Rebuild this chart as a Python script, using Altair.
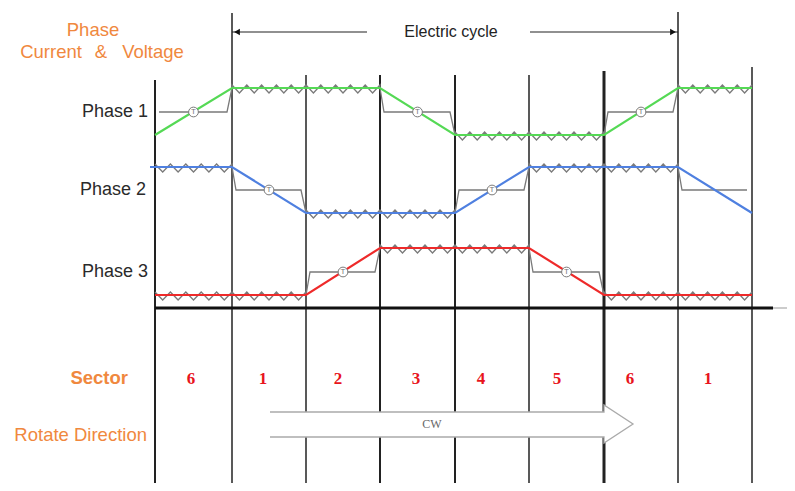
import altair as alt
import pandas as pd

W, H = 779, 475
XS = alt.Scale(domain=[8, 8 + W], nice=False, zero=False)
YS = alt.Scale(domain=[8, 8 + H], nice=False, zero=False, reverse=True)

# ---- data ----
boundaries = [155, 232, 306, 380, 455, 529, 604, 678, 752]
boundary_tops = [80, 13, 75, 75, 75, 75, 71, 12, 67]
boundary_widths = [2, 1.5, 1.5, 2, 2, 1.5, 3, 1.5, 1.5]
sector_labels = ["6", "1", "2", "3", "4", "5", "6", "1"]
sector_label_x = [191, 263, 338, 416, 481, 557, 630, 708]

phase_names = ["Phase 1", "Phase 2", "Phase 3"]
phase_label_x = [150, 148, 150]
phase_colors = ["#55d955", "#4f80e0", "#ee2a2a"]
level_high = [88, 167, 248]
level_mid = [112, 190, 272]
level_low = [135, 213, 295]
line_start = [155, 150, 155]
# H high, L low, R rising, F falling  (per sector)
phase_states = [
    ["R", "H", "H", "F", "L", "L", "R", "H"],
    ["H", "F", "L", "L", "R", "H", "H", "F"],
    ["L", "L", "R", "H", "H", "F", "L", "L"],
]
teeth_per_sector = 5

ORANGE = "#f0883e"
GRAY = "#7a7a7a"
DARK = "#222222"


def X(f, **kw):
    return alt.X(f, scale=XS, axis=None, **kw)


def Y(f, **kw):
    return alt.Y(f, scale=YS, axis=None, **kw)


# ---- vertical boundary lines ----
vdf = pd.DataFrame({"x": boundaries, "top": boundary_tops,
                    "bot": [491] * len(boundaries), "w": boundary_widths})
vlines = alt.Chart(vdf).mark_rule(color=DARK).encode(
    x=X("x:Q"), y=Y("top:Q"), y2="bot:Q",
    strokeWidth=alt.StrokeWidth("w:Q", scale=None))

# ---- horizontal axis line ----
hdf = pd.DataFrame({"x": [155, 773], "x2": [773, 795], "y": [308, 308],
                    "w": [3, 1], "c": ["#111111", "#999999"]})
hline = alt.Chart(hdf).mark_rule().encode(
    x=X("x:Q"), x2="x2:Q", y=Y("y:Q"),
    strokeWidth=alt.StrokeWidth("w:Q", scale=None),
    color=alt.Color("c:N", scale=None))

# ---- waveforms ----
gray_rows, color_rows, circ_rows = [], [], []
for k in range(3):
    hi, mi, lo = level_high[k], level_mid[k], level_low[k]
    st = phase_states[k]
    idx = 0
    for i, s in enumerate(st):
        x0, x1 = boundaries[i], boundaries[i + 1]
        if s in "HL":
            lvl = hi if s == "H" else lo
            n = teeth_per_sector * 2
            for j in range(n + 1):
                gray_rows.append({"p": k, "i": idx, "x": x0 + (x1 - x0) * j / n,
                                  "y": lvl - 3 if j % 2 == 0 else lvl + 5})
                idx += 1
        else:
            a, b = (lo, hi) if s == "R" else (hi, lo)
            pts = []
            if i > 0:
                pts.append((x0, a))
            pts.append((x0 + 4, mi))
            pts.append((x1 - 5, mi))
            if i < len(st) - 1:
                pts.append((x1, b))
                circ_rows.append({"x": (x0 + x1) / 2, "y": mi})
            for (px, py) in pts:
                gray_rows.append({"p": k, "i": idx, "x": px, "y": py})
                idx += 1
    # colored line through boundaries
    vals = []
    for i, s in enumerate(st):
        vals.append(hi if s in "HF" else lo)
    last = st[-1]
    vals.append(hi if last in "HR" else lo)
    xs = list(boundaries)
    xs[0] = line_start[k]
    for i, (px, py) in enumerate(zip(xs, vals)):
        color_rows.append({"p": k, "i": i, "x": px, "y": py, "c": phase_colors[k]})

gdf = pd.DataFrame(gray_rows)
gray = alt.Chart(gdf).mark_line(color=GRAY, strokeWidth=1.3).encode(
    x=X("x:Q"), y=Y("y:Q"), detail="p:N", order="i:Q")

cdf = pd.DataFrame(color_rows)
colored = alt.Chart(cdf).mark_line(strokeWidth=2.2).encode(
    x=X("x:Q"), y=Y("y:Q"), detail="p:N", order="i:Q",
    color=alt.Color("c:N", scale=None))

circdf = pd.DataFrame(circ_rows)
circles = alt.Chart(circdf).mark_point(
    shape="circle", filled=True, fill="white", stroke=GRAY, strokeWidth=1,
    size=95, opacity=1).encode(x=X("x:Q"), y=Y("y:Q"))
tletters = alt.Chart(circdf.assign(t="T")).mark_text(
    fontSize=8, color="#777777", font="Liberation Sans", baseline="middle").encode(
    x=X("x:Q"), y=Y("y:Q"), text="t:N")

# ---- CW arrow ----
fill_df = pd.DataFrame({"g": ["s", "s", "h", "h"],
                        "x": [270, 604, 604, 633],
                        "y": [412, 412, 405, 424],
                        "y2": [437, 437, 443, 424]})
arrow_fill = alt.Chart(fill_df).mark_area(color="white", opacity=1).encode(
    x=X("x:Q"), y=Y("y:Q"), y2="y2:Q", detail="g:N")
outline_df = pd.DataFrame({
    "g": [0, 0, 0, 0, 0, 0, 0],
    "i": list(range(7)),
    "x": [270, 604, 604, 633, 604, 604, 270],
    "y": [412, 412, 405, 424, 443, 437, 437]})
arrow_outline = alt.Chart(outline_df).mark_line(color="#aaaaaa", strokeWidth=1.3).encode(
    x=X("x:Q"), y=Y("y:Q"), order="i:Q", detail="g:N")
cw = alt.Chart(pd.DataFrame({"x": [432], "y": [424], "t": ["CW"]})).mark_text(
    font="Liberation Serif", fontSize=12, color="#666666", baseline="middle").encode(
    x=X("x:Q"), y=Y("y:Q"), text="t:N")

# ---- electric cycle ----
ec_df = pd.DataFrame({"x": [232, 530], "x2": [367, 678], "y": [32, 32]})
ec_lines = alt.Chart(ec_df).mark_rule(color=DARK, strokeWidth=1.2).encode(
    x=X("x:Q"), x2="x2:Q", y=Y("y:Q"))
head_df = pd.DataFrame({"x": [237, 673], "y": [32, 32],
                        "s": ["triangle-left", "triangle-right"]})
ec_heads = alt.Chart(head_df).mark_point(filled=True, color="#111111", size=45, opacity=1).encode(
    x=X("x:Q"), y=Y("y:Q"), shape=alt.Shape("s:N", scale=None))
ec_text = alt.Chart(pd.DataFrame({"x": [451], "y": [32], "t": ["Electric cycle"]})).mark_text(
    font="Liberation Sans", fontSize=16, color="#222222", baseline="middle").encode(
    x=X("x:Q"), y=Y("y:Q"), text="t:N")

# ---- text labels ----
title_df = pd.DataFrame({"x": [93, 51, 101, 153], "y": [30, 52, 52, 52],
                         "t": ["Phase", "Current", "&", "Voltage"]})
titles = alt.Chart(title_df).mark_text(
    font="Liberation Sans", fontSize=18.5, color=ORANGE, baseline="middle").encode(
    x=X("x:Q"), y=Y("y:Q"), text="t:N")

pl_df = pd.DataFrame({"x": phase_label_x, "y": level_mid, "t": phase_names})
phase_labels = alt.Chart(pl_df).mark_text(
    font="Liberation Sans", fontSize=18, color="#2a2a2a", align="right",
    baseline="middle", dx=-2).encode(x=X("x:Q"), y=Y("y:Q"), text="t:N")

sec_df = pd.DataFrame({"x": sector_label_x, "y": [379] * 8, "t": sector_labels})
sec_nums = alt.Chart(sec_df).mark_text(
    font="Liberation Serif", fontSize=17, fontWeight="bold", color="#e8141c",
    baseline="middle").encode(x=X("x:Q"), y=Y("y:Q"), text="t:N")

row_df = pd.DataFrame({"x": [128, 147], "y": [378, 435], "t": ["Sector", "Rotate Direction"]})
sector_title = alt.Chart(row_df.iloc[[0]]).mark_text(
    font="Liberation Sans", fontSize=18.5, fontWeight="bold", color=ORANGE,
    align="right", baseline="middle").encode(x=X("x:Q"), y=Y("y:Q"), text="t:N")
rot_title = alt.Chart(row_df.iloc[[1]]).mark_text(
    font="Liberation Sans", fontSize=18.5, color=ORANGE,
    align="right", baseline="middle").encode(x=X("x:Q"), y=Y("y:Q"), text="t:N")

chart = alt.layer(
    vlines, arrow_fill, arrow_outline, cw, hline, gray, colored, circles, tletters,
    ec_lines, ec_heads, ec_text, titles, phase_labels, sec_nums, sector_title, rot_title
).properties(width=W, height=H, padding=0, autosize="none").configure_view(stroke=None)

chart.save("out.html", embed_options={"renderer": "svg", "actions": False})
